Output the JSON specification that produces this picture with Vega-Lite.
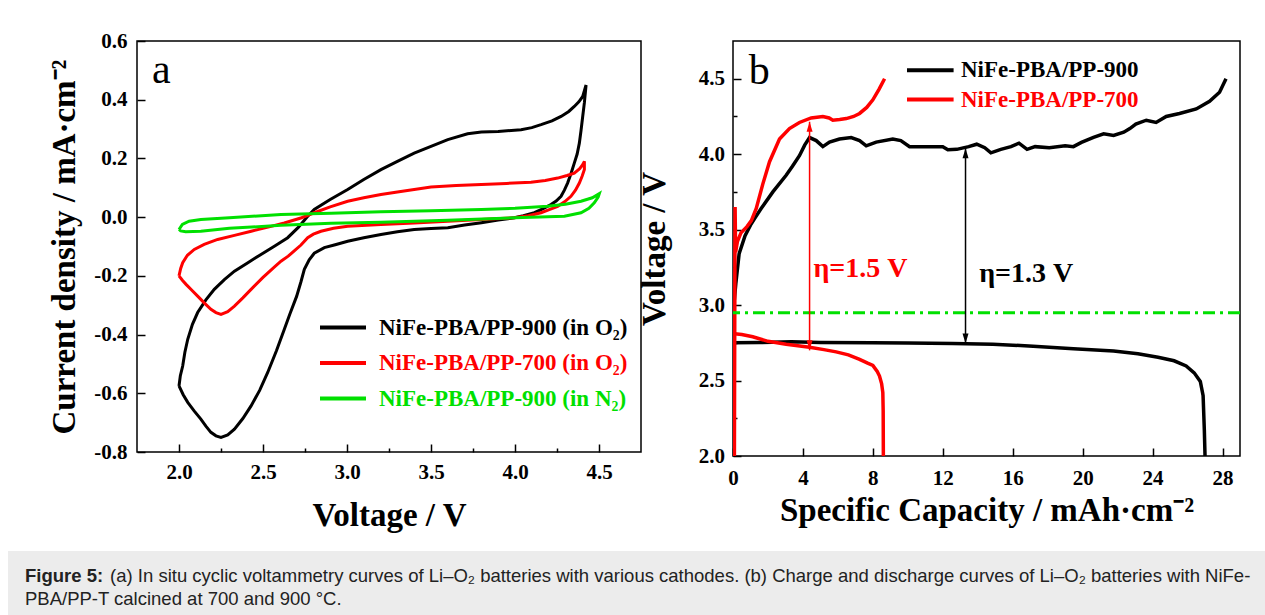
{
  "$schema": "https://vega.github.io/schema/vega-lite/v6.json",
  "padding": {"left": 8, "top": 29, "right": 0, "bottom": 0},
  "background": "white",
  "datasets": {
    "cv": [
      {"s":"NiFe-PBA/PP-900 (in O₂)","o":1,"v":2.0,"i":-0.575},{"s":"NiFe-PBA/PP-900 (in O₂)","o":2,"v":2.008,"i":-0.54},{"s":"NiFe-PBA/PP-900 (in O₂)","o":3,"v":2.022,"i":-0.507},{"s":"NiFe-PBA/PP-900 (in O₂)","o":4,"v":2.035,"i":-0.46},{"s":"NiFe-PBA/PP-900 (in O₂)","o":5,"v":2.052,"i":-0.416},{"s":"NiFe-PBA/PP-900 (in O₂)","o":6,"v":2.08,"i":-0.365},{"s":"NiFe-PBA/PP-900 (in O₂)","o":7,"v":2.111,"i":-0.325},{"s":"NiFe-PBA/PP-900 (in O₂)","o":8,"v":2.16,"i":-0.282},{"s":"NiFe-PBA/PP-900 (in O₂)","o":9,"v":2.21,"i":-0.246},{"s":"NiFe-PBA/PP-900 (in O₂)","o":10,"v":2.27,"i":-0.213},
      {"s":"NiFe-PBA/PP-900 (in O₂)","o":11,"v":2.33,"i":-0.184},{"s":"NiFe-PBA/PP-900 (in O₂)","o":12,"v":2.41,"i":-0.155},{"s":"NiFe-PBA/PP-900 (in O₂)","o":13,"v":2.488,"i":-0.127},{"s":"NiFe-PBA/PP-900 (in O₂)","o":14,"v":2.57,"i":-0.098},{"s":"NiFe-PBA/PP-900 (in O₂)","o":15,"v":2.647,"i":-0.07},{"s":"NiFe-PBA/PP-900 (in O₂)","o":16,"v":2.71,"i":-0.035},{"s":"NiFe-PBA/PP-900 (in O₂)","o":17,"v":2.766,"i":0.003},{"s":"NiFe-PBA/PP-900 (in O₂)","o":18,"v":2.805,"i":0.026},{"s":"NiFe-PBA/PP-900 (in O₂)","o":19,"v":2.9,"i":0.06},{"s":"NiFe-PBA/PP-900 (in O₂)","o":20,"v":3.004,"i":0.094},
      {"s":"NiFe-PBA/PP-900 (in O₂)","o":21,"v":3.1,"i":0.128},{"s":"NiFe-PBA/PP-900 (in O₂)","o":22,"v":3.202,"i":0.162},{"s":"NiFe-PBA/PP-900 (in O₂)","o":23,"v":3.3,"i":0.19},{"s":"NiFe-PBA/PP-900 (in O₂)","o":24,"v":3.4,"i":0.218},{"s":"NiFe-PBA/PP-900 (in O₂)","o":25,"v":3.5,"i":0.241},{"s":"NiFe-PBA/PP-900 (in O₂)","o":26,"v":3.6,"i":0.264},{"s":"NiFe-PBA/PP-900 (in O₂)","o":27,"v":3.718,"i":0.284},{"s":"NiFe-PBA/PP-900 (in O₂)","o":28,"v":3.8,"i":0.29},{"s":"NiFe-PBA/PP-900 (in O₂)","o":29,"v":3.9,"i":0.292},{"s":"NiFe-PBA/PP-900 (in O₂)","o":30,"v":4.036,"i":0.298},
      {"s":"NiFe-PBA/PP-900 (in O₂)","o":31,"v":4.1,"i":0.305},{"s":"NiFe-PBA/PP-900 (in O₂)","o":32,"v":4.155,"i":0.315},{"s":"NiFe-PBA/PP-900 (in O₂)","o":33,"v":4.22,"i":0.328},{"s":"NiFe-PBA/PP-900 (in O₂)","o":34,"v":4.274,"i":0.343},{"s":"NiFe-PBA/PP-900 (in O₂)","o":35,"v":4.32,"i":0.36},{"s":"NiFe-PBA/PP-900 (in O₂)","o":36,"v":4.353,"i":0.377},{"s":"NiFe-PBA/PP-900 (in O₂)","o":37,"v":4.38,"i":0.393},{"s":"NiFe-PBA/PP-900 (in O₂)","o":38,"v":4.403,"i":0.411},{"s":"NiFe-PBA/PP-900 (in O₂)","o":39,"v":4.423,"i":0.45},{"s":"NiFe-PBA/PP-900 (in O₂)","o":40,"v":4.413,"i":0.39},
      {"s":"NiFe-PBA/PP-900 (in O₂)","o":41,"v":4.403,"i":0.343},{"s":"NiFe-PBA/PP-900 (in O₂)","o":42,"v":4.393,"i":0.295},{"s":"NiFe-PBA/PP-900 (in O₂)","o":43,"v":4.383,"i":0.252},{"s":"NiFe-PBA/PP-900 (in O₂)","o":44,"v":4.37,"i":0.215},{"s":"NiFe-PBA/PP-900 (in O₂)","o":45,"v":4.353,"i":0.184},{"s":"NiFe-PBA/PP-900 (in O₂)","o":46,"v":4.333,"i":0.148},{"s":"NiFe-PBA/PP-900 (in O₂)","o":47,"v":4.313,"i":0.116},{"s":"NiFe-PBA/PP-900 (in O₂)","o":48,"v":4.294,"i":0.092},{"s":"NiFe-PBA/PP-900 (in O₂)","o":49,"v":4.274,"i":0.071},{"s":"NiFe-PBA/PP-900 (in O₂)","o":50,"v":4.245,"i":0.055},
      {"s":"NiFe-PBA/PP-900 (in O₂)","o":51,"v":4.214,"i":0.043},{"s":"NiFe-PBA/PP-900 (in O₂)","o":52,"v":4.165,"i":0.028},{"s":"NiFe-PBA/PP-900 (in O₂)","o":53,"v":4.115,"i":0.015},{"s":"NiFe-PBA/PP-900 (in O₂)","o":54,"v":4.05,"i":0.005},{"s":"NiFe-PBA/PP-900 (in O₂)","o":55,"v":3.996,"i":-0.002},{"s":"NiFe-PBA/PP-900 (in O₂)","o":56,"v":3.9,"i":-0.01},{"s":"NiFe-PBA/PP-900 (in O₂)","o":57,"v":3.8,"i":-0.019},{"s":"NiFe-PBA/PP-900 (in O₂)","o":58,"v":3.7,"i":-0.027},{"s":"NiFe-PBA/PP-900 (in O₂)","o":59,"v":3.6,"i":-0.036},{"s":"NiFe-PBA/PP-900 (in O₂)","o":60,"v":3.5,"i":-0.039},
      {"s":"NiFe-PBA/PP-900 (in O₂)","o":61,"v":3.4,"i":-0.042},{"s":"NiFe-PBA/PP-900 (in O₂)","o":62,"v":3.3,"i":-0.05},{"s":"NiFe-PBA/PP-900 (in O₂)","o":63,"v":3.202,"i":-0.059},{"s":"NiFe-PBA/PP-900 (in O₂)","o":64,"v":3.1,"i":-0.07},{"s":"NiFe-PBA/PP-900 (in O₂)","o":65,"v":3.004,"i":-0.082},{"s":"NiFe-PBA/PP-900 (in O₂)","o":66,"v":2.93,"i":-0.094},{"s":"NiFe-PBA/PP-900 (in O₂)","o":67,"v":2.865,"i":-0.104},{"s":"NiFe-PBA/PP-900 (in O₂)","o":68,"v":2.805,"i":-0.123},{"s":"NiFe-PBA/PP-900 (in O₂)","o":69,"v":2.775,"i":-0.145},{"s":"NiFe-PBA/PP-900 (in O₂)","o":70,"v":2.746,"i":-0.178},
      {"s":"NiFe-PBA/PP-900 (in O₂)","o":71,"v":2.726,"i":-0.22},{"s":"NiFe-PBA/PP-900 (in O₂)","o":72,"v":2.7,"i":-0.27},{"s":"NiFe-PBA/PP-900 (in O₂)","o":73,"v":2.66,"i":-0.33},{"s":"NiFe-PBA/PP-900 (in O₂)","o":74,"v":2.627,"i":-0.382},{"s":"NiFe-PBA/PP-900 (in O₂)","o":75,"v":2.58,"i":-0.455},{"s":"NiFe-PBA/PP-900 (in O₂)","o":76,"v":2.528,"i":-0.529},{"s":"NiFe-PBA/PP-900 (in O₂)","o":77,"v":2.48,"i":-0.59},{"s":"NiFe-PBA/PP-900 (in O₂)","o":78,"v":2.429,"i":-0.643},{"s":"NiFe-PBA/PP-900 (in O₂)","o":79,"v":2.38,"i":-0.686},{"s":"NiFe-PBA/PP-900 (in O₂)","o":80,"v":2.33,"i":-0.722},
      {"s":"NiFe-PBA/PP-900 (in O₂)","o":81,"v":2.29,"i":-0.742},{"s":"NiFe-PBA/PP-900 (in O₂)","o":82,"v":2.25,"i":-0.75},{"s":"NiFe-PBA/PP-900 (in O₂)","o":83,"v":2.22,"i":-0.745},{"s":"NiFe-PBA/PP-900 (in O₂)","o":84,"v":2.19,"i":-0.733},{"s":"NiFe-PBA/PP-900 (in O₂)","o":85,"v":2.16,"i":-0.712},{"s":"NiFe-PBA/PP-900 (in O₂)","o":86,"v":2.13,"i":-0.688},{"s":"NiFe-PBA/PP-900 (in O₂)","o":87,"v":2.09,"i":-0.66},{"s":"NiFe-PBA/PP-900 (in O₂)","o":88,"v":2.052,"i":-0.631},{"s":"NiFe-PBA/PP-900 (in O₂)","o":89,"v":2.025,"i":-0.605},{"s":"NiFe-PBA/PP-900 (in O₂)","o":90,"v":2.0,"i":-0.575},
      {"s":"NiFe-PBA/PP-700 (in O₂)","o":1,"v":2.0,"i":-0.2},{"s":"NiFe-PBA/PP-700 (in O₂)","o":2,"v":2.01,"i":-0.175},{"s":"NiFe-PBA/PP-700 (in O₂)","o":3,"v":2.022,"i":-0.155},{"s":"NiFe-PBA/PP-700 (in O₂)","o":4,"v":2.05,"i":-0.13},{"s":"NiFe-PBA/PP-700 (in O₂)","o":5,"v":2.091,"i":-0.11},{"s":"NiFe-PBA/PP-700 (in O₂)","o":6,"v":2.15,"i":-0.093},{"s":"NiFe-PBA/PP-700 (in O₂)","o":7,"v":2.23,"i":-0.076},{"s":"NiFe-PBA/PP-700 (in O₂)","o":8,"v":2.33,"i":-0.062},{"s":"NiFe-PBA/PP-700 (in O₂)","o":9,"v":2.43,"i":-0.048},{"s":"NiFe-PBA/PP-700 (in O₂)","o":10,"v":2.53,"i":-0.034},
      {"s":"NiFe-PBA/PP-700 (in O₂)","o":11,"v":2.627,"i":-0.02},{"s":"NiFe-PBA/PP-700 (in O₂)","o":12,"v":2.73,"i":-0.002},{"s":"NiFe-PBA/PP-700 (in O₂)","o":13,"v":2.805,"i":0.015},{"s":"NiFe-PBA/PP-700 (in O₂)","o":14,"v":2.9,"i":0.035},{"s":"NiFe-PBA/PP-700 (in O₂)","o":15,"v":3.004,"i":0.054},{"s":"NiFe-PBA/PP-700 (in O₂)","o":16,"v":3.1,"i":0.066},{"s":"NiFe-PBA/PP-700 (in O₂)","o":17,"v":3.202,"i":0.077},{"s":"NiFe-PBA/PP-700 (in O₂)","o":18,"v":3.3,"i":0.086},{"s":"NiFe-PBA/PP-700 (in O₂)","o":19,"v":3.4,"i":0.094},{"s":"NiFe-PBA/PP-700 (in O₂)","o":20,"v":3.5,"i":0.103},
      {"s":"NiFe-PBA/PP-700 (in O₂)","o":21,"v":3.65,"i":0.108},{"s":"NiFe-PBA/PP-700 (in O₂)","o":22,"v":3.8,"i":0.111},{"s":"NiFe-PBA/PP-700 (in O₂)","o":23,"v":3.95,"i":0.115},{"s":"NiFe-PBA/PP-700 (in O₂)","o":24,"v":4.095,"i":0.119},{"s":"NiFe-PBA/PP-700 (in O₂)","o":25,"v":4.18,"i":0.125},{"s":"NiFe-PBA/PP-700 (in O₂)","o":26,"v":4.254,"i":0.133},{"s":"NiFe-PBA/PP-700 (in O₂)","o":27,"v":4.31,"i":0.142},{"s":"NiFe-PBA/PP-700 (in O₂)","o":28,"v":4.353,"i":0.15},{"s":"NiFe-PBA/PP-700 (in O₂)","o":29,"v":4.385,"i":0.165},{"s":"NiFe-PBA/PP-700 (in O₂)","o":30,"v":4.403,"i":0.179},
      {"s":"NiFe-PBA/PP-700 (in O₂)","o":31,"v":4.413,"i":0.19},{"s":"NiFe-PBA/PP-700 (in O₂)","o":32,"v":4.413,"i":0.162},{"s":"NiFe-PBA/PP-700 (in O₂)","o":33,"v":4.4,"i":0.14},{"s":"NiFe-PBA/PP-700 (in O₂)","o":34,"v":4.383,"i":0.116},{"s":"NiFe-PBA/PP-700 (in O₂)","o":35,"v":4.36,"i":0.092},{"s":"NiFe-PBA/PP-700 (in O₂)","o":36,"v":4.333,"i":0.071},{"s":"NiFe-PBA/PP-700 (in O₂)","o":37,"v":4.295,"i":0.052},{"s":"NiFe-PBA/PP-700 (in O₂)","o":38,"v":4.254,"i":0.037},{"s":"NiFe-PBA/PP-700 (in O₂)","o":39,"v":4.2,"i":0.025},{"s":"NiFe-PBA/PP-700 (in O₂)","o":40,"v":4.155,"i":0.015},
      {"s":"NiFe-PBA/PP-700 (in O₂)","o":41,"v":4.08,"i":0.005},{"s":"NiFe-PBA/PP-700 (in O₂)","o":42,"v":3.996,"i":-0.002},{"s":"NiFe-PBA/PP-700 (in O₂)","o":43,"v":3.8,"i":-0.008},{"s":"NiFe-PBA/PP-700 (in O₂)","o":44,"v":3.6,"i":-0.014},{"s":"NiFe-PBA/PP-700 (in O₂)","o":45,"v":3.4,"i":-0.02},{"s":"NiFe-PBA/PP-700 (in O₂)","o":46,"v":3.202,"i":-0.025},{"s":"NiFe-PBA/PP-700 (in O₂)","o":47,"v":3.004,"i":-0.031},{"s":"NiFe-PBA/PP-700 (in O₂)","o":48,"v":2.92,"i":-0.038},{"s":"NiFe-PBA/PP-700 (in O₂)","o":49,"v":2.845,"i":-0.048},{"s":"NiFe-PBA/PP-700 (in O₂)","o":50,"v":2.8,"i":-0.058},
      {"s":"NiFe-PBA/PP-700 (in O₂)","o":51,"v":2.766,"i":-0.07},{"s":"NiFe-PBA/PP-700 (in O₂)","o":52,"v":2.726,"i":-0.095},{"s":"NiFe-PBA/PP-700 (in O₂)","o":53,"v":2.686,"i":-0.115},{"s":"NiFe-PBA/PP-700 (in O₂)","o":54,"v":2.65,"i":-0.133},{"s":"NiFe-PBA/PP-700 (in O₂)","o":55,"v":2.607,"i":-0.15},{"s":"NiFe-PBA/PP-700 (in O₂)","o":56,"v":2.567,"i":-0.17},{"s":"NiFe-PBA/PP-700 (in O₂)","o":57,"v":2.5,"i":-0.205},{"s":"NiFe-PBA/PP-700 (in O₂)","o":58,"v":2.429,"i":-0.246},{"s":"NiFe-PBA/PP-700 (in O₂)","o":59,"v":2.38,"i":-0.275},{"s":"NiFe-PBA/PP-700 (in O₂)","o":60,"v":2.33,"i":-0.303},
      {"s":"NiFe-PBA/PP-700 (in O₂)","o":61,"v":2.29,"i":-0.322},{"s":"NiFe-PBA/PP-700 (in O₂)","o":62,"v":2.25,"i":-0.331},{"s":"NiFe-PBA/PP-700 (in O₂)","o":63,"v":2.22,"i":-0.325},{"s":"NiFe-PBA/PP-700 (in O₂)","o":64,"v":2.19,"i":-0.314},{"s":"NiFe-PBA/PP-700 (in O₂)","o":65,"v":2.15,"i":-0.292},{"s":"NiFe-PBA/PP-700 (in O₂)","o":66,"v":2.111,"i":-0.269},{"s":"NiFe-PBA/PP-700 (in O₂)","o":67,"v":2.075,"i":-0.248},{"s":"NiFe-PBA/PP-700 (in O₂)","o":68,"v":2.042,"i":-0.229},{"s":"NiFe-PBA/PP-700 (in O₂)","o":69,"v":2.02,"i":-0.215},{"s":"NiFe-PBA/PP-700 (in O₂)","o":70,"v":2.0,"i":-0.2},
      {"s":"NiFe-PBA/PP-900 (in N₂)","o":1,"v":2.0,"i":-0.042},{"s":"NiFe-PBA/PP-900 (in N₂)","o":2,"v":2.02,"i":-0.025},{"s":"NiFe-PBA/PP-900 (in N₂)","o":3,"v":2.06,"i":-0.014},{"s":"NiFe-PBA/PP-900 (in N₂)","o":4,"v":2.13,"i":-0.008},{"s":"NiFe-PBA/PP-900 (in N₂)","o":5,"v":2.3,"i":-0.002},{"s":"NiFe-PBA/PP-900 (in N₂)","o":6,"v":2.607,"i":0.009},{"s":"NiFe-PBA/PP-900 (in N₂)","o":7,"v":2.905,"i":0.013},{"s":"NiFe-PBA/PP-900 (in N₂)","o":8,"v":3.202,"i":0.018},{"s":"NiFe-PBA/PP-900 (in N₂)","o":9,"v":3.5,"i":0.022},{"s":"NiFe-PBA/PP-900 (in N₂)","o":10,"v":3.8,"i":0.026},
      {"s":"NiFe-PBA/PP-900 (in N₂)","o":11,"v":4.0,"i":0.03},{"s":"NiFe-PBA/PP-900 (in N₂)","o":12,"v":4.194,"i":0.037},{"s":"NiFe-PBA/PP-900 (in N₂)","o":13,"v":4.3,"i":0.044},{"s":"NiFe-PBA/PP-900 (in N₂)","o":14,"v":4.393,"i":0.054},{"s":"NiFe-PBA/PP-900 (in N₂)","o":15,"v":4.46,"i":0.066},{"s":"NiFe-PBA/PP-900 (in N₂)","o":16,"v":4.502,"i":0.08},{"s":"NiFe-PBA/PP-900 (in N₂)","o":17,"v":4.495,"i":0.068},{"s":"NiFe-PBA/PP-900 (in N₂)","o":18,"v":4.472,"i":0.049},{"s":"NiFe-PBA/PP-900 (in N₂)","o":19,"v":4.44,"i":0.03},{"s":"NiFe-PBA/PP-900 (in N₂)","o":20,"v":4.393,"i":0.015},
      {"s":"NiFe-PBA/PP-900 (in N₂)","o":21,"v":4.294,"i":0.003},{"s":"NiFe-PBA/PP-900 (in N₂)","o":22,"v":3.996,"i":-0.002},{"s":"NiFe-PBA/PP-900 (in N₂)","o":23,"v":3.6,"i":-0.011},{"s":"NiFe-PBA/PP-900 (in N₂)","o":24,"v":3.202,"i":-0.017},{"s":"NiFe-PBA/PP-900 (in N₂)","o":25,"v":2.905,"i":-0.021},{"s":"NiFe-PBA/PP-900 (in N₂)","o":26,"v":2.607,"i":-0.028},{"s":"NiFe-PBA/PP-900 (in N₂)","o":27,"v":2.3,"i":-0.038},{"s":"NiFe-PBA/PP-900 (in N₂)","o":28,"v":2.13,"i":-0.048},{"s":"NiFe-PBA/PP-900 (in N₂)","o":29,"v":2.04,"i":-0.05},{"s":"NiFe-PBA/PP-900 (in N₂)","o":30,"v":2.01,"i":-0.047},
      {"s":"NiFe-PBA/PP-900 (in N₂)","o":31,"v":2.0,"i":-0.042}
    ],
    "gcd": [
      {"s":"NiFe-PBA/PP-900","k":"charge","o":1,"c":0,"u":2.08},{"s":"NiFe-PBA/PP-900","k":"charge","o":2,"c":0.02,"u":2.6},{"s":"NiFe-PBA/PP-900","k":"charge","o":3,"c":0.05,"u":3.0},{"s":"NiFe-PBA/PP-900","k":"charge","o":4,"c":0.16,"u":3.14},{"s":"NiFe-PBA/PP-900","k":"charge","o":5,"c":0.35,"u":3.34},{"s":"NiFe-PBA/PP-900","k":"charge","o":6,"c":0.69,"u":3.46},{"s":"NiFe-PBA/PP-900","k":"charge","o":7,"c":1.0,"u":3.53},{"s":"NiFe-PBA/PP-900","k":"charge","o":8,"c":1.27,"u":3.58},{"s":"NiFe-PBA/PP-900","k":"charge","o":9,"c":1.61,"u":3.64},{"s":"NiFe-PBA/PP-900","k":"charge","o":10,"c":2.28,"u":3.75},
      {"s":"NiFe-PBA/PP-900","k":"charge","o":11,"c":3.04,"u":3.86},{"s":"NiFe-PBA/PP-900","k":"charge","o":12,"c":3.4,"u":3.92},{"s":"NiFe-PBA/PP-900","k":"charge","o":13,"c":3.8,"u":3.99},{"s":"NiFe-PBA/PP-900","k":"charge","o":14,"c":4.1,"u":4.06},{"s":"NiFe-PBA/PP-900","k":"charge","o":15,"c":4.38,"u":4.11},{"s":"NiFe-PBA/PP-900","k":"charge","o":16,"c":4.76,"u":4.09},{"s":"NiFe-PBA/PP-900","k":"charge","o":17,"c":5.14,"u":4.05},{"s":"NiFe-PBA/PP-900","k":"charge","o":18,"c":5.52,"u":4.08},{"s":"NiFe-PBA/PP-900","k":"charge","o":19,"c":6.09,"u":4.1},{"s":"NiFe-PBA/PP-900","k":"charge","o":20,"c":6.76,"u":4.11},
      {"s":"NiFe-PBA/PP-900","k":"charge","o":21,"c":7.24,"u":4.09},{"s":"NiFe-PBA/PP-900","k":"charge","o":22,"c":7.62,"u":4.055},{"s":"NiFe-PBA/PP-900","k":"charge","o":23,"c":8.19,"u":4.08},{"s":"NiFe-PBA/PP-900","k":"charge","o":24,"c":9.14,"u":4.1},{"s":"NiFe-PBA/PP-900","k":"charge","o":25,"c":9.6,"u":4.09},{"s":"NiFe-PBA/PP-900","k":"charge","o":26,"c":10.1,"u":4.05},{"s":"NiFe-PBA/PP-900","k":"charge","o":27,"c":11.43,"u":4.05},{"s":"NiFe-PBA/PP-900","k":"charge","o":28,"c":12.0,"u":4.05},{"s":"NiFe-PBA/PP-900","k":"charge","o":29,"c":12.29,"u":4.03},{"s":"NiFe-PBA/PP-900","k":"charge","o":30,"c":12.8,"u":4.032},
      {"s":"NiFe-PBA/PP-900","k":"charge","o":31,"c":13.48,"u":4.05},{"s":"NiFe-PBA/PP-900","k":"charge","o":32,"c":13.94,"u":4.066},{"s":"NiFe-PBA/PP-900","k":"charge","o":33,"c":14.4,"u":4.043},{"s":"NiFe-PBA/PP-900","k":"charge","o":34,"c":14.75,"u":4.009},{"s":"NiFe-PBA/PP-900","k":"charge","o":35,"c":15.32,"u":4.032},{"s":"NiFe-PBA/PP-900","k":"charge","o":36,"c":15.9,"u":4.05},{"s":"NiFe-PBA/PP-900","k":"charge","o":37,"c":16.36,"u":4.073},{"s":"NiFe-PBA/PP-900","k":"charge","o":38,"c":16.82,"u":4.032},{"s":"NiFe-PBA/PP-900","k":"charge","o":39,"c":17.28,"u":4.05},{"s":"NiFe-PBA/PP-900","k":"charge","o":40,"c":18.09,"u":4.043},
      {"s":"NiFe-PBA/PP-900","k":"charge","o":41,"c":19.0,"u":4.055},{"s":"NiFe-PBA/PP-900","k":"charge","o":42,"c":19.47,"u":4.05},{"s":"NiFe-PBA/PP-900","k":"charge","o":43,"c":19.93,"u":4.078},{"s":"NiFe-PBA/PP-900","k":"charge","o":44,"c":20.62,"u":4.112},{"s":"NiFe-PBA/PP-900","k":"charge","o":45,"c":21.2,"u":4.135},{"s":"NiFe-PBA/PP-900","k":"charge","o":46,"c":21.77,"u":4.124},{"s":"NiFe-PBA/PP-900","k":"charge","o":47,"c":22.35,"u":4.146},{"s":"NiFe-PBA/PP-900","k":"charge","o":48,"c":22.7,"u":4.17},{"s":"NiFe-PBA/PP-900","k":"charge","o":49,"c":23.04,"u":4.2},{"s":"NiFe-PBA/PP-900","k":"charge","o":50,"c":23.64,"u":4.225},
      {"s":"NiFe-PBA/PP-900","k":"charge","o":51,"c":24.2,"u":4.21},{"s":"NiFe-PBA/PP-900","k":"charge","o":52,"c":24.78,"u":4.25},{"s":"NiFe-PBA/PP-900","k":"charge","o":53,"c":25.54,"u":4.27},{"s":"NiFe-PBA/PP-900","k":"charge","o":54,"c":26.5,"u":4.3},{"s":"NiFe-PBA/PP-900","k":"charge","o":55,"c":27.26,"u":4.35},{"s":"NiFe-PBA/PP-900","k":"charge","o":56,"c":27.83,"u":4.41},{"s":"NiFe-PBA/PP-900","k":"charge","o":57,"c":28.2,"u":4.5},
      {"s":"NiFe-PBA/PP-900","k":"discharge","o":1,"c":0,"u":2.75},{"s":"NiFe-PBA/PP-900","k":"discharge","o":2,"c":1.5,"u":2.752},{"s":"NiFe-PBA/PP-900","k":"discharge","o":3,"c":3.34,"u":2.757},{"s":"NiFe-PBA/PP-900","k":"discharge","o":4,"c":5.0,"u":2.752},{"s":"NiFe-PBA/PP-900","k":"discharge","o":5,"c":7.95,"u":2.75},{"s":"NiFe-PBA/PP-900","k":"discharge","o":6,"c":10.0,"u":2.748},{"s":"NiFe-PBA/PP-900","k":"discharge","o":7,"c":12.56,"u":2.746},{"s":"NiFe-PBA/PP-900","k":"discharge","o":8,"c":14.86,"u":2.74},{"s":"NiFe-PBA/PP-900","k":"discharge","o":9,"c":17.17,"u":2.728},{"s":"NiFe-PBA/PP-900","k":"discharge","o":10,"c":19.47,"u":2.71},
      {"s":"NiFe-PBA/PP-900","k":"discharge","o":11,"c":21.77,"u":2.696},{"s":"NiFe-PBA/PP-900","k":"discharge","o":12,"c":23.16,"u":2.677},{"s":"NiFe-PBA/PP-900","k":"discharge","o":13,"c":24.31,"u":2.654},{"s":"NiFe-PBA/PP-900","k":"discharge","o":14,"c":25.23,"u":2.631},{"s":"NiFe-PBA/PP-900","k":"discharge","o":15,"c":25.92,"u":2.597},{"s":"NiFe-PBA/PP-900","k":"discharge","o":16,"c":26.38,"u":2.551},{"s":"NiFe-PBA/PP-900","k":"discharge","o":17,"c":26.73,"u":2.494},{"s":"NiFe-PBA/PP-900","k":"discharge","o":18,"c":26.89,"u":2.4},{"s":"NiFe-PBA/PP-900","k":"discharge","o":19,"c":26.96,"u":2.172},{"s":"NiFe-PBA/PP-900","k":"discharge","o":20,"c":27.0,"u":2.0},
      {"s":"NiFe-PBA/PP-700","k":"charge","o":1,"c":0.08,"u":2.0},{"s":"NiFe-PBA/PP-700","k":"charge","o":2,"c":0.1,"u":2.9},{"s":"NiFe-PBA/PP-700","k":"charge","o":3,"c":0.12,"u":3.65},{"s":"NiFe-PBA/PP-700","k":"charge","o":4,"c":0.15,"u":3.35},{"s":"NiFe-PBA/PP-700","k":"charge","o":5,"c":0.25,"u":3.42},{"s":"NiFe-PBA/PP-700","k":"charge","o":6,"c":0.46,"u":3.48},{"s":"NiFe-PBA/PP-700","k":"charge","o":7,"c":0.8,"u":3.52},{"s":"NiFe-PBA/PP-700","k":"charge","o":8,"c":1.05,"u":3.56},{"s":"NiFe-PBA/PP-700","k":"charge","o":9,"c":1.33,"u":3.64},{"s":"NiFe-PBA/PP-700","k":"charge","o":10,"c":1.7,"u":3.8},
      {"s":"NiFe-PBA/PP-700","k":"charge","o":11,"c":2.09,"u":3.95},{"s":"NiFe-PBA/PP-700","k":"charge","o":12,"c":2.66,"u":4.1},{"s":"NiFe-PBA/PP-700","k":"charge","o":13,"c":3.23,"u":4.17},{"s":"NiFe-PBA/PP-700","k":"charge","o":14,"c":3.8,"u":4.21},{"s":"NiFe-PBA/PP-700","k":"charge","o":15,"c":4.47,"u":4.24},{"s":"NiFe-PBA/PP-700","k":"charge","o":16,"c":5.14,"u":4.25},{"s":"NiFe-PBA/PP-700","k":"charge","o":17,"c":5.5,"u":4.24},{"s":"NiFe-PBA/PP-700","k":"charge","o":18,"c":5.71,"u":4.225},{"s":"NiFe-PBA/PP-700","k":"charge","o":19,"c":6.1,"u":4.23},{"s":"NiFe-PBA/PP-700","k":"charge","o":20,"c":6.48,"u":4.236},
      {"s":"NiFe-PBA/PP-700","k":"charge","o":21,"c":6.9,"u":4.25},{"s":"NiFe-PBA/PP-700","k":"charge","o":22,"c":7.24,"u":4.27},{"s":"NiFe-PBA/PP-700","k":"charge","o":23,"c":7.65,"u":4.31},{"s":"NiFe-PBA/PP-700","k":"charge","o":24,"c":8.0,"u":4.36},{"s":"NiFe-PBA/PP-700","k":"charge","o":25,"c":8.35,"u":4.43},{"s":"NiFe-PBA/PP-700","k":"charge","o":26,"c":8.67,"u":4.5},
      {"s":"NiFe-PBA/PP-700","k":"discharge","o":1,"c":0.09,"u":2.81},{"s":"NiFe-PBA/PP-700","k":"discharge","o":2,"c":0.5,"u":2.805},{"s":"NiFe-PBA/PP-700","k":"discharge","o":3,"c":1.13,"u":2.79},{"s":"NiFe-PBA/PP-700","k":"discharge","o":4,"c":2.0,"u":2.76},{"s":"NiFe-PBA/PP-700","k":"discharge","o":5,"c":3.04,"u":2.74},{"s":"NiFe-PBA/PP-700","k":"discharge","o":6,"c":4.38,"u":2.72},{"s":"NiFe-PBA/PP-700","k":"discharge","o":7,"c":5.2,"u":2.705},{"s":"NiFe-PBA/PP-700","k":"discharge","o":8,"c":5.9,"u":2.69},{"s":"NiFe-PBA/PP-700","k":"discharge","o":9,"c":6.6,"u":2.67},{"s":"NiFe-PBA/PP-700","k":"discharge","o":10,"c":7.24,"u":2.64},
      {"s":"NiFe-PBA/PP-700","k":"discharge","o":11,"c":7.7,"u":2.615},{"s":"NiFe-PBA/PP-700","k":"discharge","o":12,"c":8.0,"u":2.6},{"s":"NiFe-PBA/PP-700","k":"discharge","o":13,"c":8.25,"u":2.56},{"s":"NiFe-PBA/PP-700","k":"discharge","o":14,"c":8.38,"u":2.53},{"s":"NiFe-PBA/PP-700","k":"discharge","o":15,"c":8.5,"u":2.48},{"s":"NiFe-PBA/PP-700","k":"discharge","o":16,"c":8.57,"u":2.42},{"s":"NiFe-PBA/PP-700","k":"discharge","o":17,"c":8.59,"u":2.3},{"s":"NiFe-PBA/PP-700","k":"discharge","o":18,"c":8.6,"u":2.0}
    ],
    "arrows": [
      {"s":"NiFe-PBA/PP-700","c":4.38,"lo":2.70,"hi":4.215},
      {"s":"NiFe-PBA/PP-900","c":13.3,"lo":2.745,"hi":4.04}
    ],
    "eta": [
      {"s":"NiFe-PBA/PP-700","t":"η=1.5 V","c":7.29,"u":3.184},
      {"s":"NiFe-PBA/PP-900","t":"η=1.3 V","c":16.77,"u":3.156}
    ]
  },
  "config": {
    "font": "Liberation Serif",
    "view": {"stroke": "#000", "strokeWidth": 1.5},
    "axis": {
      "domain": false, "grid": false,
      "labelFont": "Liberation Serif", "labelFontWeight": "bold", "labelFontSize": 21, "labelColor": "#000",
      "titleFont": "Liberation Serif", "titleFontWeight": "bold", "titleFontSize": 33, "titleColor": "#000",
      "tickColor": "#000", "tickWidth": 1.5,
      "labelFlush": false, "labelOverlap": false, "labelBound": false
    },
    "legend": {
      "labelFont": "Liberation Serif", "labelFontWeight": "bold", "labelFontSize": 23, "labelLimit": 500,
      "symbolSize": 400, "symbolStrokeWidth": 4, "padding": 0
    }
  },
  "spacing": 18,
  "vconcat": [
    {
      "spacing": 39,
      "hconcat": [
        {
          "width": 1, "height": 1,
          "view": {"stroke": null},
          "data": {"values": []},
          "mark": "point"
        },
        {
          "spacing": -4,
          "resolve": {"scale": {"color": "independent"}, "legend": {"color": "independent"}},
          "hconcat": [
            {
              "width": 504, "height": 411,
              "layer": [
                {
                  "data": {"name": "cv"},
                  "mark": {"type": "line", "strokeWidth": 3, "clip": true},
                  "encoding": {
                    "x": {
                      "field": "v", "type": "quantitative",
                      "scale": {"domain": [1.75, 4.75], "nice": false, "zero": false},
                      "axis": {
                        "title": "Voltage / V",
                        "values": [2, 2.25, 2.5, 2.75, 3, 3.25, 3.5, 3.75, 4, 4.25, 4.5],
                        "labelExpr": "datum.value % 0.5 == 0 ? format(datum.value, '.1f') : ''",
                        "tickSize": {"condition": {"test": "datum.value % 0.5 == 0", "value": -8}, "value": -4},
                        "labelPadding": 17, "titlePadding": 13
                      }
                    },
                    "y": {
                      "field": "i", "type": "quantitative",
                      "scale": {"domain": [-0.8, 0.6], "nice": false, "zero": false},
                      "axis": {
                        "title": "Current density / mA·cm⁻²",
                        "values": [-0.8, -0.7, -0.6, -0.5, -0.4, -0.3, -0.2, -0.1, 0, 0.1, 0.2, 0.3, 0.4, 0.5, 0.6],
                        "labelExpr": "abs(round(datum.value * 10)) % 2 == 0 ? (datum.value < -0.001 ? '-' : '') + format(abs(datum.value), '.1f') : ''",
                        "tickSize": {"condition": {"test": "abs(round(datum.value * 10)) % 2 == 0", "value": -8}, "value": -4},
                        "labelPadding": 18, "titlePadding": 12
                      }
                    },
                    "color": {
                      "field": "s", "type": "nominal",
                      "scale": {
                        "domain": ["NiFe-PBA/PP-900 (in O₂)", "NiFe-PBA/PP-700 (in O₂)", "NiFe-PBA/PP-900 (in N₂)"],
                        "range": ["#000000", "#ff0000", "#00e000"]
                      },
                      "legend": {
                        "title": null, "orient": "none", "legendX": 181, "legendY": 274.5,
                        "symbolType": "M-1,0L3.6,0",
                        "labelOffset": 37, "rowPadding": 11.5,
                        "encode": {"labels": {"update": {"fill": {"signal": "indexof(datum.value, '700') >= 0 ? '#ff0000' : (indexof(datum.value, 'N₂') >= 0 ? '#00e000' : '#000000')"}}}}
                      }
                    },
                    "order": {"field": "o", "type": "quantitative"}
                  }
                },
                {
                  "data": {"values": [{"t": "a", "v": 1.84, "i": 0.458}]},
                  "mark": {"type": "text", "fontSize": 42, "fontWeight": "normal", "align": "left", "baseline": "alphabetic", "color": "#000"},
                  "encoding": {
                    "x": {"field": "v", "type": "quantitative"},
                    "y": {"field": "i", "type": "quantitative"},
                    "text": {"field": "t"}
                  }
                }
              ]
            },
            {
              "width": 507, "height": 415,
              "layer": [
                {
                  "data": {"name": "gcd"},
                  "mark": {"type": "line", "strokeWidth": 3.5, "clip": true},
                  "encoding": {
                    "x": {
                      "field": "c", "type": "quantitative",
                      "scale": {"domain": [0, 29], "nice": false},
                      "axis": {
                        "title": "Specific Capacity / mAh·cm⁻²",
                        "values": [0, 2, 4, 6, 8, 10, 12, 14, 16, 18, 20, 22, 24, 26, 28],
                        "labelExpr": "datum.value % 4 == 0 ? format(datum.value, 'd') : ''",
                        "tickSize": {"condition": {"test": "datum.value % 4 == 0", "value": -8}, "value": -4},
                        "labelPadding": 19, "titlePadding": 6
                      }
                    },
                    "y": {
                      "field": "u", "type": "quantitative",
                      "scale": {"domain": [2, 4.75], "nice": false, "zero": false},
                      "axis": {
                        "title": "Voltage / V",
                        "values": [2, 2.25, 2.5, 2.75, 3, 3.25, 3.5, 3.75, 4, 4.25, 4.5],
                        "labelExpr": "datum.value % 0.5 == 0 ? format(datum.value, '.1f') : ''",
                        "tickSize": {"condition": {"test": "datum.value % 0.5 == 0", "value": -8}, "value": -4},
                        "labelPadding": 16.5, "titlePadding": 26.5
                      }
                    },
                    "color": {
                      "field": "s", "type": "nominal",
                      "scale": {"domain": ["NiFe-PBA/PP-900", "NiFe-PBA/PP-700"], "range": ["#000000", "#ff0000"]},
                      "legend": {
                        "title": null, "orient": "none", "legendX": 172, "legendY": 17.2,
                        "symbolType": "M-1,0L3.66,0",
                        "labelOffset": 32, "rowPadding": 5.3,
                        "encode": {"labels": {"update": {"fill": {"signal": "indexof(datum.value, '700') >= 0 ? '#ff0000' : '#000000'"}}}}
                      }
                    },
                    "detail": {"field": "k"},
                    "order": {"field": "o", "type": "quantitative"}
                  }
                },
                {
                  "data": {"values": [{"u": 2.95}]},
                  "mark": {"type": "rule", "color": "#00e000", "strokeWidth": 3, "strokeDash": [12, 5, 3, 5]},
                  "encoding": {"y": {"field": "u", "type": "quantitative"}}
                },
                {
                  "data": {"name": "arrows"},
                  "mark": {"type": "rule", "strokeWidth": 1.5},
                  "encoding": {
                    "x": {"field": "c", "type": "quantitative"},
                    "y": {"field": "lo", "type": "quantitative"},
                    "y2": {"field": "hi"},
                    "stroke": {"field": "s", "type": "nominal", "scale": {"domain": ["NiFe-PBA/PP-900", "NiFe-PBA/PP-700"], "range": ["#000000", "#ff0000"]}, "legend": null}
                  }
                },
                {
                  "data": {"name": "arrows"},
                  "mark": {"type": "point", "shape": "M0,0L0.6,2L-0.6,2Z", "size": 100, "filled": true, "opacity": 1, "strokeWidth": 0},
                  "encoding": {
                    "x": {"field": "c", "type": "quantitative"},
                    "y": {"field": "hi", "type": "quantitative"},
                    "fill": {"field": "s", "type": "nominal", "scale": {"domain": ["NiFe-PBA/PP-900", "NiFe-PBA/PP-700"], "range": ["#000000", "#ff0000"]}, "legend": null}
                  }
                },
                {
                  "data": {"name": "arrows"},
                  "mark": {"type": "point", "shape": "M0,0L0.6,-2L-0.6,-2Z", "size": 100, "filled": true, "opacity": 1, "strokeWidth": 0},
                  "encoding": {
                    "x": {"field": "c", "type": "quantitative"},
                    "y": {"field": "lo", "type": "quantitative"},
                    "fill": {"field": "s", "type": "nominal", "scale": {"domain": ["NiFe-PBA/PP-900", "NiFe-PBA/PP-700"], "range": ["#000000", "#ff0000"]}, "legend": null}
                  }
                },
                {
                  "data": {"name": "eta"},
                  "mark": {"type": "text", "fontSize": 28, "fontWeight": "bold", "align": "center", "baseline": "alphabetic"},
                  "encoding": {
                    "x": {"field": "c", "type": "quantitative"},
                    "y": {"field": "u", "type": "quantitative"},
                    "text": {"field": "t"},
                    "fill": {"field": "s", "type": "nominal", "scale": {"domain": ["NiFe-PBA/PP-900", "NiFe-PBA/PP-700"], "range": ["#000000", "#ff0000"]}, "legend": null}
                  }
                },
                {
                  "data": {"values": [{"t": "b", "c": 0.9, "u": 4.465}]},
                  "mark": {"type": "text", "fontSize": 42, "fontWeight": "normal", "align": "left", "baseline": "alphabetic", "color": "#000"},
                  "encoding": {
                    "x": {"field": "c", "type": "quantitative"},
                    "y": {"field": "u", "type": "quantitative"},
                    "text": {"field": "t"}
                  }
                }
              ]
            }
          ]
        }
      ]
    },
    {
      "width": 1257, "height": 65,
      "view": {"fill": "#ececec", "stroke": null},
      "data": {"values": [
        {"t": "Figure 5:", "w": "bold", "x": 0.0135, "y": 0.385},
        {"t": "(a) In situ cyclic voltammetry curves of Li–O₂ batteries with various cathodes. (b) Charge and discharge curves of Li–O₂ batteries with NiFe-", "w": "normal", "x": 0.0812, "y": 0.385},
        {"t": "PBA/PP-T calcined at 700 and 900 °C.", "w": "normal", "x": 0.0135, "y": 0.738}
      ]},
      "layer": [
        {
          "transform": [{"filter": "datum.w == 'bold'"}],
          "mark": {"type": "text", "font": "Liberation Sans", "fontSize": 18.5, "fontWeight": "bold", "align": "left", "baseline": "middle", "color": "#222222"},
          "encoding": {
            "x": {"field": "x", "type": "quantitative", "scale": {"domain": [0, 1]}, "axis": null},
            "y": {"field": "y", "type": "quantitative", "scale": {"domain": [0, 1], "reverse": true}, "axis": null},
            "text": {"field": "t"}
          }
        },
        {
          "transform": [{"filter": "datum.w == 'normal'"}],
          "mark": {"type": "text", "font": "Liberation Sans", "fontSize": 18.5, "fontWeight": "normal", "align": "left", "baseline": "middle", "color": "#222222"},
          "encoding": {
            "x": {"field": "x", "type": "quantitative", "scale": {"domain": [0, 1]}, "axis": null},
            "y": {"field": "y", "type": "quantitative", "scale": {"domain": [0, 1], "reverse": true}, "axis": null},
            "text": {"field": "t"}
          }
        }
      ]
    }
  ]
}
